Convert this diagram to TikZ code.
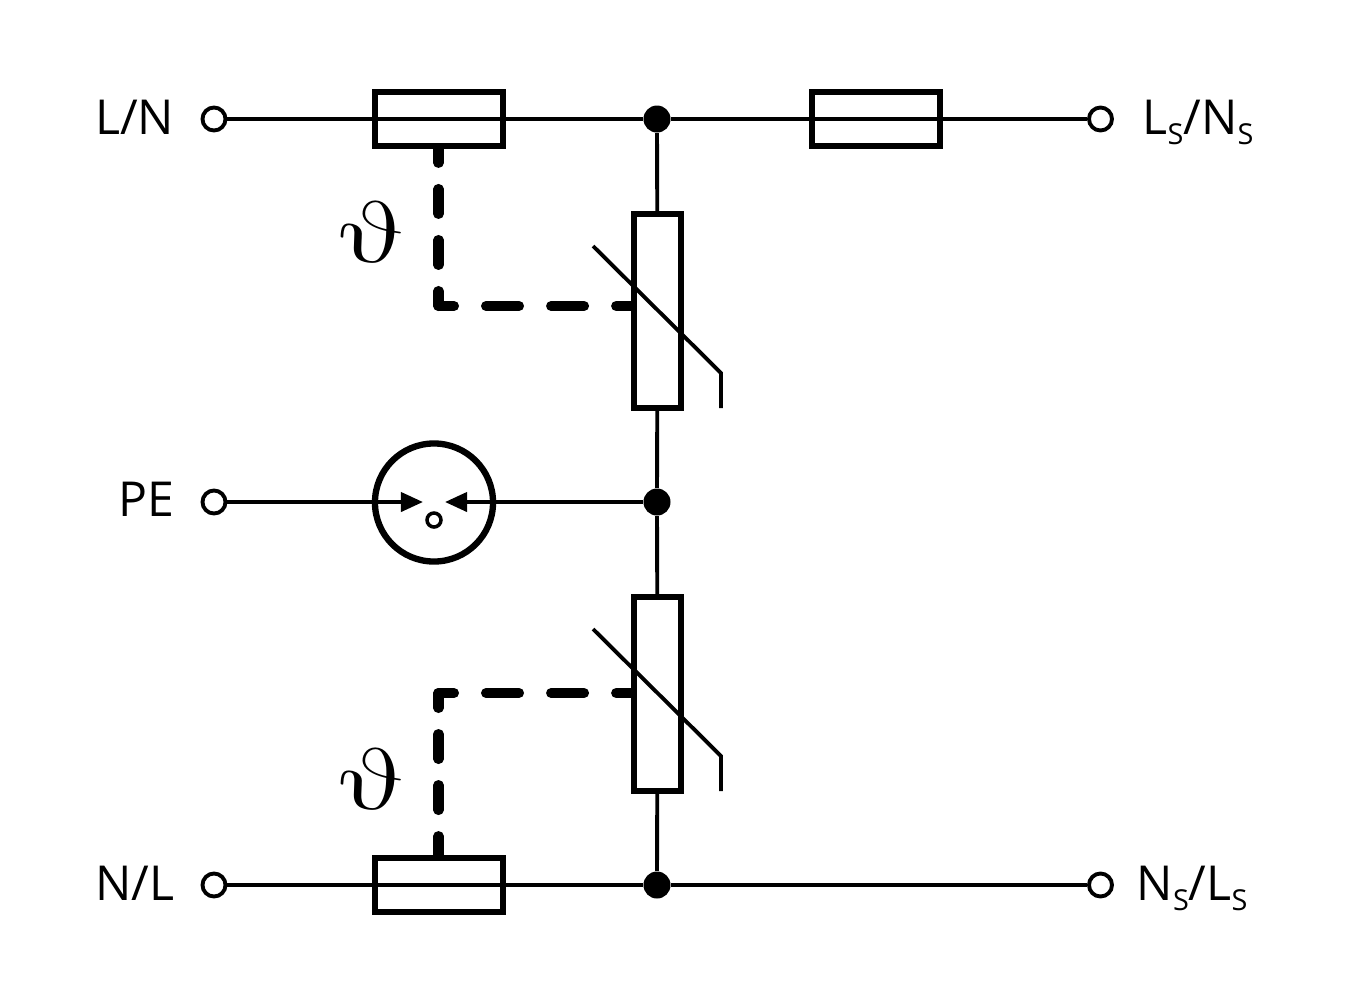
\documentclass[tikz,border=0pt]{standalone}
\usepackage{fontspec}
\setmainfont{Open Sans}
\usetikzlibrary{arrows.meta}
\usetikzlibrary{positioning}
\newcommand{\subS}{\raisebox{-0.2em}{\fontsize{8.2pt}{8.2pt}\selectfont S}}
\tikzset{
  wire/.style={line width=1.1pt},
  terminal/.style={circle,draw,line width=1.1pt,inner sep=0pt,minimum size=0.23cm},
  junction/.style={circle,fill=black,inner sep=0pt,minimum size=0.27cm},
  fuse/.style={rectangle,draw,line width=1.8pt,inner sep=0pt,minimum width=1.28cm,minimum height=0.54cm},
  varistor/.style={rectangle,draw,line width=1.8pt,inner sep=0pt,minimum width=0.47cm,minimum height=1.94cm},
  linkv/.style={line width=2.85pt,line cap=round,dash pattern=on 0.25cm off 0.26cm,dash phase=0.10cm},
  linkh/.style={line width=2.85pt,line cap=round,dash pattern=on 0.33cm off 0.32cm,dash phase=0.175cm},
  lbl/.style={inner sep=0pt,font=\fontsize{13.7pt}{13.7pt}\selectfont},
  tempsign/.style={inner sep=0pt,xscale=1.35,xslant=-0.22,transform shape,font=\fontsize{27pt}{27pt}\selectfont}
}
\begin{document}
\begin{tikzpicture}[x=0.01cm,y=-0.01cm]
\useasboundingbox (0,0) rectangle (1350,1005);
\node[terminal] (tLN) at (214,119) {};
\node[terminal] (tPE) at (214,502) {};
\node[terminal] (tNL) at (214,885) {};
\node[terminal] (tLsNs) at (1100.5,119) {};
\node[terminal] (tNsLs) at (1100.5,885) {};
\node[junction] (dTop) at (657,119) {};
\node[junction] (dMid) at (657,502) {};
\node[junction] (dBot) at (657,885) {};
\node[fuse] (fuseA) at (439,119) {};
\node[fuse] (fuseB) at (876,119) {};
\node[fuse] (fuseC) at (439,885) {};
\node[varistor] (varA) at (657.5,311) {};
\node[varistor] (varB) at (657.5,694) {};
\node[circle,draw,line width=1.8pt,inner sep=0pt,minimum size=1.18cm] (gdt) at (434,502.5) {};
\node[circle,draw,line width=1.0pt,inner sep=0pt,minimum size=0.14cm] (gdtDot) at (434,520) {};

\draw[wire] (tLN) -- (dTop);
\draw[wire] (dTop) -- (tLsNs);
\draw[wire] (tNL) -- (dBot);
\draw[wire] (dBot) -- (tNsLs);
\draw[wire] (dTop) -- (varA);
\draw[wire] (varA) -- (dMid);
\draw[wire] (dMid) -- (varB);
\draw[wire] (varB) -- (dBot);

\coordinate (tipL) at (423,502);
\coordinate (tipR) at (445,502);
\draw[wire,-{Triangle[length=0.22cm,width=0.19cm]}] (tPE) -- (tipL);
\draw[wire,-{Triangle[length=0.22cm,width=0.19cm]}] (dMid) -- (tipR);

\draw[wire] (593,246) -- (721,373) -- (721,408);
\draw[wire] (593,629) -- (721,756) -- (721,791);

\coordinate (cornerA) at (438.5,306);
\coordinate (cornerB) at (438.5,693);
\draw[linkv] (cornerA) -- (cornerA |- fuseA.south);
\draw[linkh] (cornerA) -- (cornerA -| varA.west);
\draw[linkv] (cornerB) -- (cornerB |- fuseC.north);
\draw[linkh] (cornerB) -- (cornerB -| varB.west);

\node (thetaA) at (371,232) [tempsign] {$\vartheta$};
\node (thetaB) at (371,779) [tempsign] {$\vartheta$};

\node[lbl,anchor=base east] (labLN) at (175,134.5) {L/N};
\node[lbl,anchor=base east] (labPE) at (175,516) {PE};
\node[lbl,anchor=base east] (labNL) at (175,900.5) {N/L};
\node[lbl,anchor=base west] (labLsNs) at (1142,134.5) {L\subS/N\subS};
\node[lbl,anchor=base west] (labNsLs) at (1136,900.5) {N\subS/L\subS};
\end{tikzpicture}
\end{document}
